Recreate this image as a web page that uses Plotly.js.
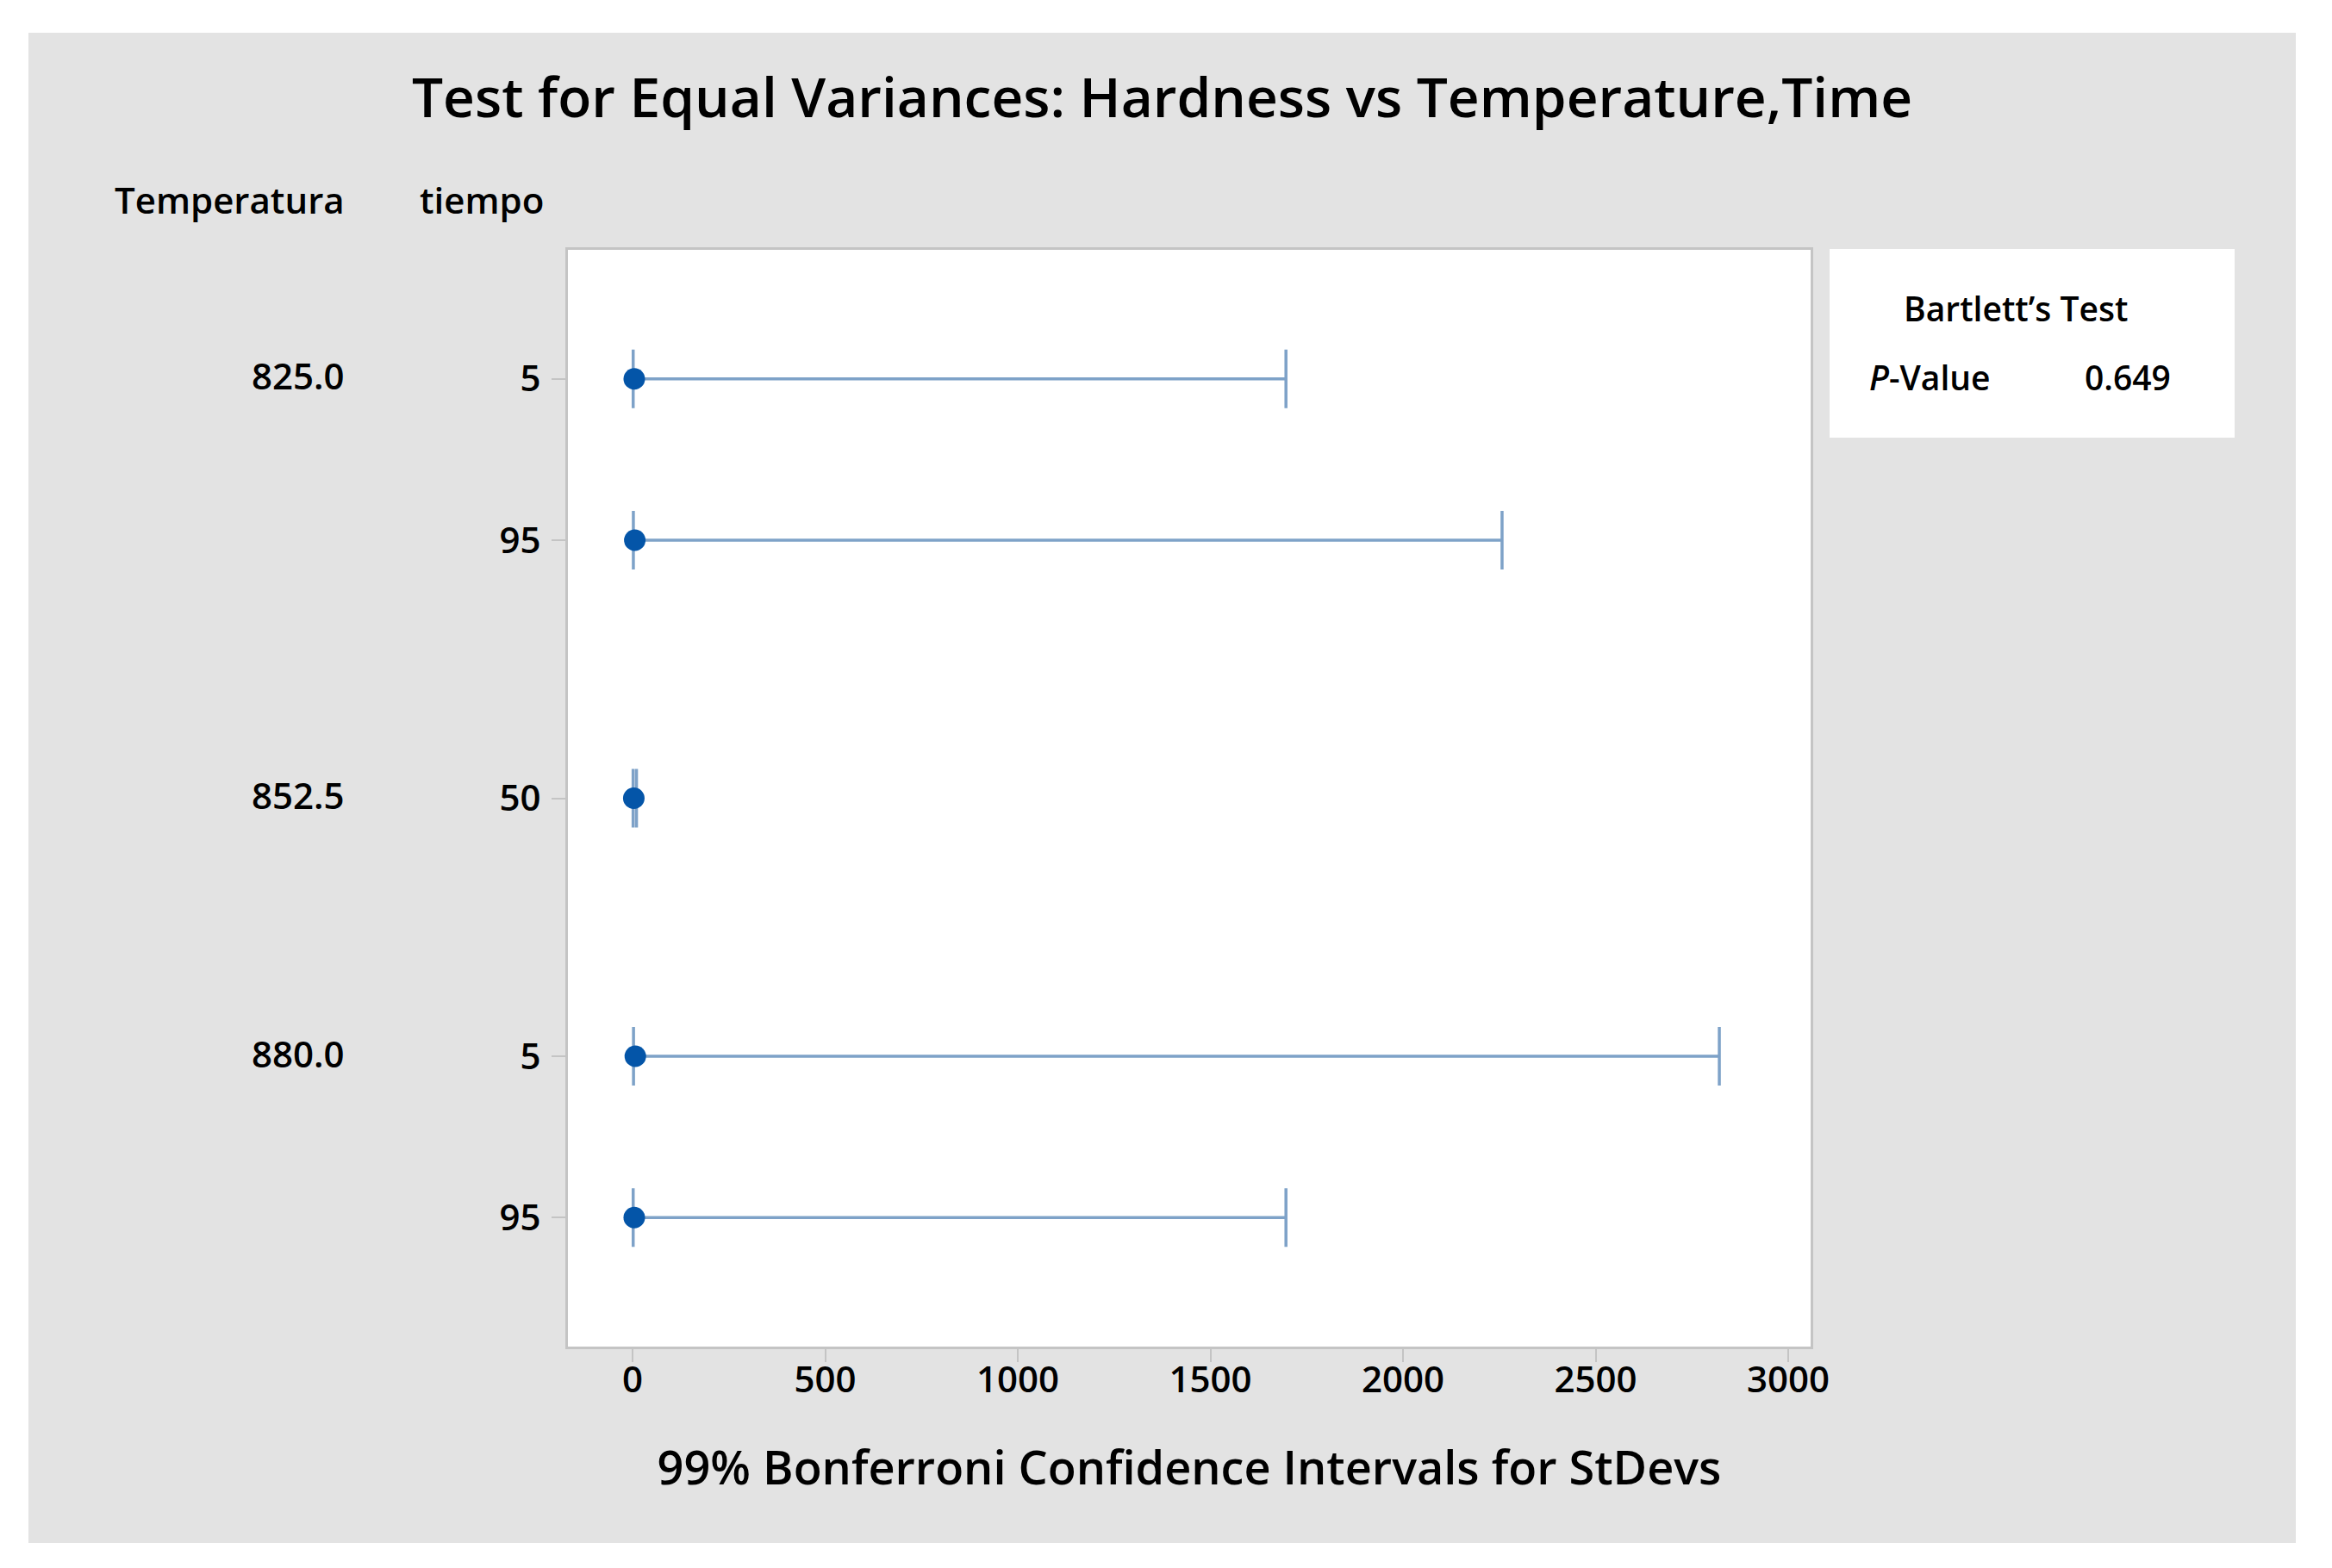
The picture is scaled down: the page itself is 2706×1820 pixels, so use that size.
<!DOCTYPE html>
<html>
<head>
<meta charset="utf-8">
<script src="https://cdn.plot.ly/plotly-3.0.1.min.js"></script>
<style>
  html, body { margin: 0; padding: 0; background: #ffffff; }
  #chart { position: absolute; left: 33px; top: 38px; width: 2631px; height: 1753px; }
</style>
</head>
<body>
<div id="chart"></div>
<script>
// ---- Data ----
const temperatura = ['825.0', '825.0', '852.5', '880.0', '880.0'];
const tiempo      = ['5', '95', '50', '5', '95'];
const stdev       = [4.2, 5.6, 3.0, 7.0, 4.2];
const lowerCI     = [1.4, 1.9, 1.2, 2.3, 1.4];
const upperCI     = [1696, 2257, 10, 2821, 1696];
const xTickVals   = [0, 500, 1000, 1500, 2000, 2500, 3000];
const pValue      = '0.649';

// ---- Layout positions derived from group structure ----
const groupGap = 0.6;
const yPos = [];
const groupStarts = [];
let g = -1, prev = null;
temperatura.forEach((t, i) => {
  if (t !== prev) { g++; groupStarts.push(i); prev = t; }
  yPos.push(i + g * groupGap);
});

const fontFam = '"Open Sans", "Noto Sans", sans-serif';
const lineCol = '#7ea2c8';
const markCol = '#0455a8';
const frameCol = '#c4c4c4';
const W8 = 600;

const trace = {
  type: 'scatter',
  mode: 'markers',
  x: stdev,
  y: yPos,
  marker: { size: 25, color: markCol },
  error_x: {
    type: 'data',
    symmetric: false,
    array: upperCI.map((u, i) => u - stdev[i]),
    arrayminus: lowerCI.map((l, i) => stdev[i] - l),
    color: lineCol,
    thickness: 3.5,
    width: 34
  },
  hoverinfo: 'x+y',
  showlegend: false
};

const plotL = 626, plotW = 1442, plotT = 252, plotH = 1273;
const W = 2631, H = 1753;
const px2x = px => (px - plotL) / plotW;        // div px -> paper x
const py2y = py => (plotT + plotH - py) / plotH; // div px -> paper y

const lblFont = { family: fontFam, size: 42, color: '#000', weight: W8 };
const boxFont = { family: fontFam, size: 39, color: '#000', weight: W8 };

const annotations = [];
// Temperature group labels
groupStarts.forEach(i => {
  annotations.push({
    xref: 'paper', yref: 'y', x: px2x(369), y: yPos[i], yshift: 4,
    text: temperatura[i], showarrow: false, xanchor: 'right', yanchor: 'middle',
    font: lblFont
  });
});
// Column headers
annotations.push({
  xref: 'paper', yref: 'paper', x: px2x(369), y: py2y(193),
  text: 'Temperatura', showarrow: false, xanchor: 'right', yanchor: 'middle',
  font: lblFont
});
annotations.push({
  xref: 'paper', yref: 'paper', x: px2x(600), y: py2y(193),
  text: 'tiempo', showarrow: false, xanchor: 'right', yanchor: 'middle',
  font: lblFont
});
// Bartlett's box texts
annotations.push({
  xref: 'paper', yref: 'paper', x: px2x(2306), y: py2y(320),
  text: 'Bartlett\u2019s Test', showarrow: false, xanchor: 'center', yanchor: 'middle',
  font: boxFont
});
annotations.push({
  xref: 'paper', yref: 'paper', x: px2x(2134), y: py2y(399),
  text: '<i>P</i>-Value', showarrow: false, xanchor: 'left', yanchor: 'middle',
  font: boxFont
});
annotations.push({
  xref: 'paper', yref: 'paper', x: px2x(2488), y: py2y(399),
  text: pValue, showarrow: false, xanchor: 'right', yanchor: 'middle',
  font: boxFont
});

const layout = {
  width: W, height: H,
  paper_bgcolor: '#e3e3e3',
  plot_bgcolor: '#ffffff',
  margin: { l: plotL, r: W - plotL - plotW, t: plotT, b: H - plotT - plotH, pad: 0 },
  title: {
    text: 'Test for Equal Variances: Hardness vs Temperature,Time',
    xref: 'container', x: 0.5, xanchor: 'center',
    yref: 'container', y: 1 - 76 / H, yanchor: 'middle',
    font: { family: fontFam, size: 64, color: '#000', weight: W8 }
  },
  xaxis: {
    range: [-168, 3058],
    tickvals: xTickVals,
    ticktext: xTickVals.map(String),
    ticks: 'outside', ticklen: 15, tickwidth: 2, tickcolor: frameCol,
    ticklabelstandoff: -15,
    showline: true, linecolor: frameCol, linewidth: 3, mirror: true,
    showgrid: false, zeroline: false,
    tickfont: { family: fontFam, size: 42, color: '#000', weight: W8 },
    title: {
      text: '99% Bonferroni Confidence Intervals for StDevs',
      font: { family: fontFam, size: 54, color: '#000', weight: W8 },
      standoff: 58
    },
    automargin: false
  },
  yaxis: {
    range: [6.0, -0.8],
    tickvals: yPos,
    ticktext: tiempo,
    ticks: 'outside', ticklen: 16, tickwidth: 2, tickcolor: frameCol,
    ticklabelstandoff: 4,
    showline: true, linecolor: frameCol, linewidth: 3, mirror: true,
    showgrid: false, zeroline: false,
    tickfont: { family: fontFam, size: 42, color: '#000', weight: W8 },
    automargin: false
  },
  shapes: [{
    type: 'rect', xref: 'paper', yref: 'paper', layer: 'below',
    x0: px2x(2090), x1: px2x(2560), y0: py2y(470), y1: py2y(251),
    fillcolor: '#ffffff', line: { width: 0 }
  }],
  annotations: annotations
};

Plotly.newPlot('chart', [trace], layout, { displayModeBar: false, staticPlot: true });
</script>
</body>
</html>
